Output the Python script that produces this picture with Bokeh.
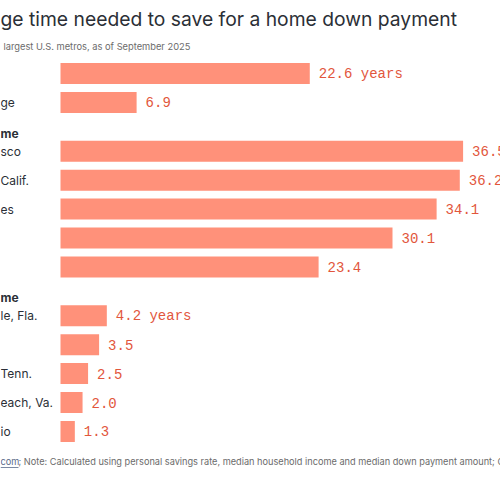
import numpy as np
from bokeh.plotting import figure, ColumnDataSource
from bokeh.models import Range1d, Label
from bokeh.core.properties import value
from bokeh.embed import file_html
from bokeh.resources import INLINE

# ------------------------ data (as visible in the cropped chart)
title_text = 'ge time needed to save for a home down payment'
subtitle_text = 'largest U.S. metros, as of September 2025'
footer_link = 'com'
footer_note = '; Note: Calculated using personal savings rate, median household income and median down payment amount; C'

group_names = ['', 'me', 'me']
group_labels = [['', 'ge'],
                ['sco', 'Calif.', 'es', '', ''],
                ['le, Fla.', '', 'Tenn.', 'each, Va.', 'io']]
group_values = [[22.6, 6.9],
                [36.5, 36.2, 34.1, 30.1, 23.4],
                [4.2, 3.5, 2.5, 2.0, 1.3]]
first_suffix = ' years'

# ------------------------ style
color_bar = '#ff917a'
color_val = '#e2563c'
color_txt = '#2b2f36'
color_sub = '#6b6b6b'
color_link = '#5b6b8a'
font_sans = 'Inter'
font_mono = 'Liberation Mono'

W, H = 500, 500
bar_left_px = 60          # where zero sits on the canvas
px_per_year = 11.03
x0 = -bar_left_px/px_per_year
x1 = (W - bar_left_px)/px_per_year

p = figure(width=W, height=H, output_backend="svg", toolbar_location=None,
           x_range=Range1d(x0, x1), y_range=Range1d(H, 0), min_border=0)
p.axis.visible = False
p.grid.visible = False
p.outline_line_color = None
p.background_fill_color = 'white'
p.border_fill_color = 'white'

# ------------------------ row positions (canvas px from top)
pitch = 28.9
ys, labels, vals, texts = [], [], [], []
head_y = []
y = 73.0
for g, (gname, glabs, gvals) in enumerate(zip(group_names, group_labels, group_values)):
    if g > 0:
        head_y.append(y - pitch + 31)
        y += 20
    for i, (lab, v) in enumerate(zip(glabs, gvals)):
        ys.append(y)
        labels.append(lab)
        vals.append(v)
        t = '%.1f' % v
        if i == 0 and g != 1:
            t += first_suffix
        texts.append(t)
        y += pitch

src = ColumnDataSource(dict(y=ys, v=vals, lab=labels, t=texts, zero=[0]*len(vals),
                            xl=[x0]*len(vals)))
p.hbar(y='y', left='zero', right='v', height=21, source=src,
       fill_color=color_bar, line_color=None)
p.text(x='v', y='y', text='t', source=src, x_offset=9,
       text_font=value(font_mono), text_font_size='14px', text_color=color_val,
       text_baseline='middle', text_align='left')
p.text(x='xl', y='y', text='lab', source=src,
       text_font=value(font_sans), text_font_size='12px', text_color=color_txt,
       text_baseline='middle', text_align='left')

for hy, gname in zip(head_y, group_names[1:]):
    p.add_layout(Label(x=0, x_units='screen', y=hy, text=gname, text_font=font_sans,
                       text_font_size='12px', text_font_style='bold', text_color=color_txt,
                       text_baseline='middle'))

# ------------------------ title, subtitle, footer
p.add_layout(Label(x=0, x_units='screen', y=18, text=title_text, text_font=font_sans,
                   text_font_size='19.3px', text_color=color_txt, text_baseline='middle'))
p.add_layout(Label(x=3, x_units='screen', y=46, text=subtitle_text, text_font=font_sans,
                   text_font_size='9.3px', text_color=color_sub, text_baseline='middle'))
p.add_layout(Label(x=0, x_units='screen', y=461, text=footer_link, text_font=font_sans,
                   text_font_size='9.2px', text_color=color_link, text_baseline='middle'))
p.segment(x0=[x0], x1=[x0 + 18/px_per_year], y0=[467], y1=[467],
          line_color=color_link, line_width=0.8)
p.add_layout(Label(x=18, x_units='screen', y=461, text=footer_note, text_font=font_sans,
                   text_font_size='9.2px', text_color=color_sub, text_baseline='middle'))

open("out.html", "w").write(file_html(p, INLINE))
